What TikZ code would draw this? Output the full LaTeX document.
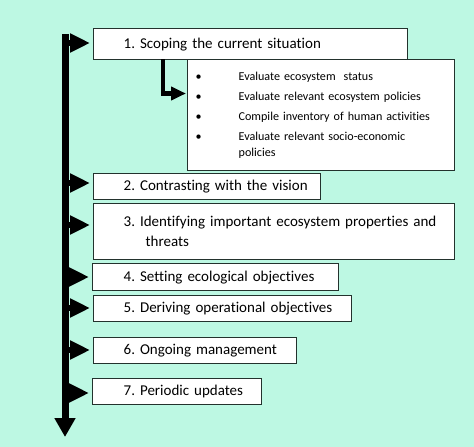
\documentclass[tikz,border=0pt]{standalone}
\usepackage{fontspec}
\setmainfont{Carlito}[Ligatures=NoCommon]
\frenchspacing
\usetikzlibrary{arrows.meta}
\definecolor{bgmint}{RGB}{189,248,227}
\definecolor{boxline}{RGB}{35,50,45}
\tikzset{
  x=1pt, y=-1pt,
  stepbox/.style={draw=boxline, line width=1.3pt, fill=white, anchor=north west,
    inner xsep=0pt, inner ysep=0pt, align=left,
    font=\fontsize{15}{20}\selectfont\frenchspacing},
  listbox/.style={draw=boxline, line width=1.3pt, fill=white, anchor=north west,
    inner xsep=0pt, inner ysep=0pt, align=left,
    font=\fontsize{12.1}{16}\selectfont\frenchspacing},
  mainline/.style={line width=7pt, black, -{Triangle[length=19pt,width=20pt]}},
  sidearrow/.style={line width=5.5pt, black, shorten >=3pt, -{Triangle[length=20pt,width=18pt]}},
  elbow/.style={line width=4.5pt, black, line join=miter, shorten >=1pt, -{Triangle[length=15pt,width=13pt]}},
}
\begin{document}
\begin{tikzpicture}
\fill[bgmint] (0,0) rectangle (474,447);
\useasboundingbox (0,0) rectangle (474,447);

\node[stepbox, text width=314pt, minimum height=31pt] (b1) at (93,28)
  {\hspace*{30pt}1. Scoping the current situation};
\node[listbox, text width=267pt, minimum height=111pt] (bl) at (187,59)
  {\makebox[51pt][l]{\hspace*{8pt}\textbullet}Evaluate ecosystem\ \ status\\[4.5pt]
   \makebox[51pt][l]{\hspace*{8pt}\textbullet}Evaluate relevant ecosystem policies\\[4pt]
   \makebox[51pt][l]{\hspace*{8pt}\textbullet}Compile inventory of human activities\\[4pt]
   \makebox[51pt][l]{\hspace*{8pt}\textbullet}Evaluate relevant socio-economic\\
   \hspace*{51pt}policies};
\node[stepbox, text width=227pt, minimum height=26pt] (b2) at (93,173)
  {\hspace*{30pt}2. Contrasting with the vision};
\node[stepbox, text width=361pt, minimum height=56pt] (b3) at (93,203)
  {\hspace*{30pt}3. Identifying important ecosystem properties and\\
   \hspace*{52pt}threats\\[4pt]};
\node[stepbox, text width=246pt, minimum height=27pt] (b4) at (92,263)
  {\hspace*{31pt}4. Setting ecological objectives};
\node[stepbox, text width=258pt, minimum height=26pt] (b5) at (93,295)
  {\hspace*{30pt}5. Deriving operational objectives};
\node[stepbox, text width=203pt, minimum height=26pt] (b6) at (93,337)
  {\hspace*{30pt}6. Ongoing management};
\node[stepbox, text width=169pt, minimum height=26pt] (b7) at (92,378)
  {\hspace*{31pt}7. Periodic updates};

\coordinate (top) at (65,34);
\coordinate (bot) at (65,437);
\draw[mainline] (top) -- (bot);

\coordinate (c1) at (65,43);
\coordinate (c2) at (65,183);
\coordinate (c3) at (65,225);
\coordinate (c4) at (65,277);
\coordinate (c5) at (65,308);
\coordinate (c6) at (65,350);
\coordinate (c7) at (65,393);
\draw[sidearrow] (c1) -- (c1 -| b1.west);
\draw[sidearrow] (c2) -- (c2 -| b2.west);
\draw[sidearrow] (c3) -- (c3 -| b3.west);
\draw[sidearrow] (c4) -- (c4 -| b4.west);
\draw[sidearrow] (c5) -- (c5 -| b5.west);
\draw[sidearrow] (c6) -- (c6 -| b6.west);
\draw[sidearrow] (c7) -- (c7 -| b7.west);

\coordinate (e1) at (163,59);
\coordinate (e2) at (0,93.5);
\draw[elbow] (e1) |- (bl.west |- e2);
\end{tikzpicture}
\end{document}
